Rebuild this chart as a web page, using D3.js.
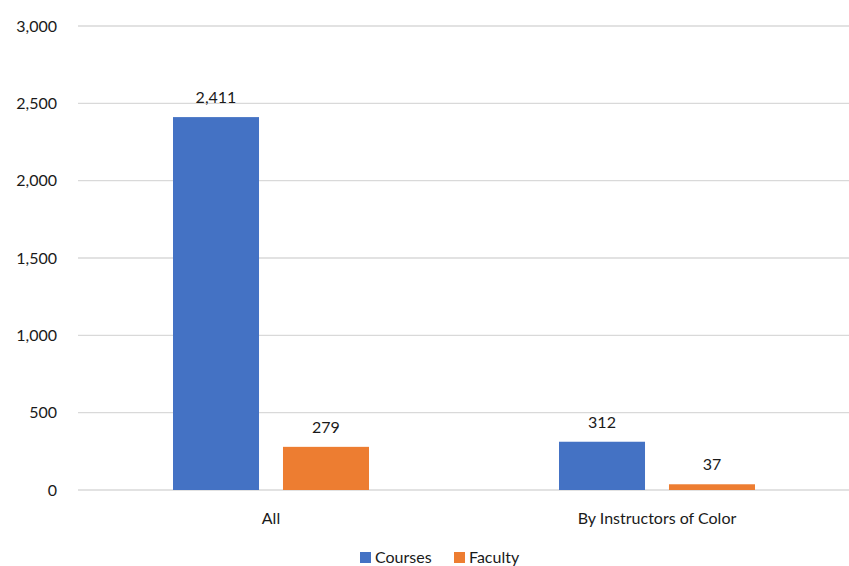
<!DOCTYPE html>
<html>
<head>
<meta charset="utf-8">
<script src="https://cdn.jsdelivr.net/npm/d3@7"></script>
<style>
  body { margin: 0; background: #fff; }
  text { font-family: Lato, "Open Sans", sans-serif; fill: #1a1a1a; }
</style>
</head>
<body>
<div id="chart"></div>
<script>
// Data
const categories = ["All", "By Instructors of Color"];
const seriesNames = ["Courses", "Faculty"];
const courses = [2411, 312];
const faculty = [279, 37];
const yTicks = [0, 500, 1000, 1500, 2000, 2500, 3000];

const colors = ["#4472C4", "#ED7D31"];
const width = 849, height = 566;
const margin = { top: 26, right: 0, bottom: 76, left: 78 };

const svg = d3.select("#chart").append("svg")
  .attr("width", width)
  .attr("height", height);

const x0 = d3.scaleBand()
  .domain(categories)
  .range([margin.left, width + 1]);

const x1 = d3.scaleBand()
  .domain(seriesNames)
  .range([95, 291])
  .paddingInner(0.218);

const y = d3.scaleLinear()
  .domain([0, 3000])
  .range([height - margin.bottom, margin.top]);

// gridlines
svg.append("g")
  .selectAll("line")
  .data(yTicks)
  .join("line")
  .attr("x1", margin.left)
  .attr("x2", width)
  .attr("y1", d => y(d))
  .attr("y2", d => y(d))
  .attr("stroke", "#d9d9d9")
  .attr("stroke-width", 1.3);

// y-axis labels
const yAxis = svg.append("g")
  .attr("transform", `translate(${margin.left - 18},0)`)
  .call(d3.axisLeft(y).tickValues(yTicks).tickSize(0).tickFormat(d3.format(",")));
yAxis.select(".domain").remove();
yAxis.selectAll("text")
  .attr("font-size", "16px")
  .attr("font-family", "Lato, sans-serif")
  .attr("fill", "#1a1a1a");

// bars
const rows = categories.map((c, i) => ({ cat: c, values: [courses[i], faculty[i]] }));

const groups = svg.append("g")
  .selectAll("g")
  .data(rows)
  .join("g")
  .attr("transform", d => `translate(${x0(d.cat)},0)`);

groups.selectAll("rect")
  .data(d => d.values.map((v, j) => ({ name: seriesNames[j], v, j })))
  .join("rect")
  .attr("x", d => x1(d.name))
  .attr("y", d => y(d.v))
  .attr("width", x1.bandwidth())
  .attr("height", d => y(0) - y(d.v))
  .attr("fill", d => colors[d.j]);

groups.selectAll("text.val")
  .data(d => d.values.map((v, j) => ({ name: seriesNames[j], v, j })))
  .join("text")
  .attr("class", "val")
  .attr("x", d => x1(d.name) + x1.bandwidth() / 2)
  .attr("y", d => y(d.v) - 14)
  .attr("text-anchor", "middle")
  .attr("font-size", "16px")
  .text(d => d3.format(",")(d.v));

// x-axis category labels
svg.append("g")
  .selectAll("text")
  .data(categories)
  .join("text")
  .attr("x", d => x0(d) + x0.bandwidth() / 2)
  .attr("y", height - margin.bottom + 34)
  .attr("text-anchor", "middle")
  .attr("font-size", "16px")
  .text(d => d);

// legend
const legendX = [360, 454];
const legend = svg.append("g")
  .selectAll("g")
  .data(seriesNames)
  .join("g")
  .attr("transform", (d, i) => `translate(${legendX[i]},${height - 9})`);
legend.append("rect")
  .attr("width", 11)
  .attr("height", 11)
  .attr("y", -5)
  .attr("fill", (d, i) => colors[i]);
legend.append("text")
  .attr("x", 15)
  .attr("y", 0)
  .attr("dy", "0.35em")
  .attr("font-size", "16px")
  .text(d => d);
</script>
</body>
</html>
